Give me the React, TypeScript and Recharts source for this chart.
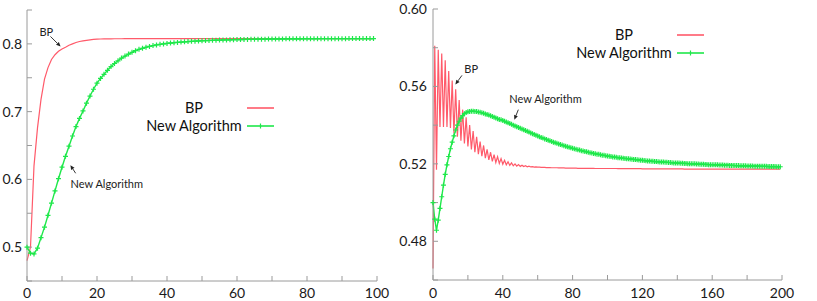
import { LineChart, Line, XAxis, YAxis, Legend, ReferenceDot, ReferenceLine } from 'recharts'

const FONT = 'Lato, "Open Sans", sans-serif'
const RED = '#ff5a6a'
const GREEN = '#1ee84a'
const FRAME = '#9a9a9a'

// left panel: iterations 0..99
const leftX = Array.from({ length: 100 }, (_, i) => i)
const leftBP = [
  0.480, 0.500, 0.620, 0.676, 0.718, 0.748, 0.765, 0.777, 0.784, 0.789,
  0.7925, 0.795, 0.798, 0.800, 0.802, 0.8035, 0.8045, 0.8053, 0.806, 0.8065,
  0.8069, 0.8072, 0.8074, 0.8075, 0.8075, 0.8076, 0.8076, 0.8076, 0.8077, 0.8077,
  0.8077, 0.8077, 0.8077, 0.8077, 0.8077, 0.8077, 0.8077, 0.8077, 0.8077, 0.8077,
  0.8077, 0.8077, 0.8077, 0.8077, 0.8077, 0.8077, 0.8077, 0.8077, 0.8077, 0.8077,
  0.8077, 0.8077, 0.8077, 0.8077, 0.8077, 0.8077, 0.8077, 0.8077, 0.8077, 0.8077,
  0.8077, 0.8077, 0.8077, 0.8077, 0.8077, 0.8077, 0.8077, 0.8077, 0.8077, 0.8077,
  0.8077, 0.8077, 0.8077, 0.8077, 0.8077, 0.8077, 0.8077, 0.8077, 0.8077, 0.8077,
  0.8077, 0.8077, 0.8077, 0.8077, 0.8077, 0.8077, 0.8077, 0.8077, 0.8077, 0.8077,
  0.8077, 0.8077, 0.8077, 0.8077, 0.8077, 0.8077, 0.8077, 0.8077, 0.8077, 0.8077,
]
const leftNA = [
  0.500, 0.491, 0.490, 0.4985, 0.514, 0.5295, 0.547, 0.565, 0.583, 0.601,
  0.618, 0.634, 0.649, 0.664, 0.678, 0.690, 0.701, 0.7125, 0.723, 0.733,
  0.742, 0.749, 0.755, 0.761, 0.7665, 0.771, 0.775, 0.779, 0.782, 0.785,
  0.7875, 0.790, 0.792, 0.7935, 0.795, 0.7963, 0.7975, 0.7985, 0.7993, 0.800,
  0.8006, 0.8012, 0.8017, 0.8022, 0.8026, 0.803, 0.8034, 0.8037, 0.804, 0.8043,
  0.8046, 0.8048, 0.805, 0.8052, 0.8054, 0.8056, 0.8058, 0.8059, 0.806, 0.8062,
  0.8063, 0.8064, 0.8065, 0.8066, 0.8067, 0.8068, 0.8069, 0.807, 0.807, 0.8071,
  0.8072, 0.8072, 0.8073, 0.8073, 0.8074, 0.8074, 0.8075, 0.8075, 0.8075, 0.8076,
  0.8076, 0.8076, 0.8076, 0.8076, 0.8077, 0.8077, 0.8077, 0.8077, 0.8077, 0.8077,
  0.8077, 0.8077, 0.8078, 0.8078, 0.8078, 0.8078, 0.8078, 0.8078, 0.8078, 0.8078,
]

// right panel: iterations 0..199
const rightX = Array.from({ length: 200 }, (_, i) => i)
const rightBP = [
  0.466, 0.581, 0.517, 0.579, 0.539, 0.577, 0.539, 0.5735, 0.539, 0.568,
  0.5385, 0.563, 0.536, 0.5585, 0.534, 0.553, 0.532, 0.548, 0.5305, 0.544,
  0.529, 0.540, 0.5275, 0.537, 0.526, 0.534, 0.525, 0.5315, 0.524, 0.5295,
  0.523, 0.5275, 0.522, 0.526, 0.5213, 0.5248, 0.5207, 0.5237, 0.5202, 0.5227,
  0.5198, 0.5218, 0.5195, 0.5211, 0.5192, 0.5205, 0.519, 0.520, 0.5188, 0.5196,
  0.5187, 0.5193, 0.5186, 0.519, 0.5185, 0.5188, 0.5184, 0.5186, 0.5183, 0.5184,
  0.5183, 0.5183, 0.5182, 0.5182, 0.5182, 0.5181, 0.5181, 0.5181, 0.518, 0.518,
  0.518, 0.518, 0.5179, 0.5179, 0.5179, 0.5179, 0.5178, 0.5178, 0.5178, 0.5178,
  0.5178, 0.5178, 0.5178, 0.5177, 0.5177, 0.5177, 0.5177, 0.5177, 0.5177, 0.5177,
  0.5177, 0.5177, 0.5177, 0.5176, 0.5176, 0.5176, 0.5176, 0.5176, 0.5176, 0.5176,
  0.5176, 0.5176, 0.5176, 0.5176, 0.5176, 0.5176, 0.5175, 0.5175, 0.5175, 0.5175,
  0.5175, 0.5175, 0.5175, 0.5175, 0.5175, 0.5175, 0.5175, 0.5175, 0.5175, 0.5175,
  0.5174, 0.5174, 0.5174, 0.5174, 0.5174, 0.5174, 0.5174, 0.5174, 0.5174, 0.5174,
  0.5174, 0.5174, 0.5174, 0.5174, 0.5174, 0.5174, 0.5174, 0.5174, 0.5174, 0.5174,
  0.5174, 0.5174, 0.5174, 0.5174, 0.5173, 0.5173, 0.5173, 0.5173, 0.5173, 0.5173,
  0.5173, 0.5173, 0.5173, 0.5173, 0.5173, 0.5173, 0.5173, 0.5173, 0.5173, 0.5173,
  0.5173, 0.5173, 0.5173, 0.5173, 0.5173, 0.5173, 0.5173, 0.5173, 0.5173, 0.5173,
  0.5173, 0.5173, 0.5173, 0.5173, 0.5173, 0.5173, 0.5173, 0.5173, 0.5173, 0.5173,
  0.5173, 0.5173, 0.5173, 0.5173, 0.5173, 0.5173, 0.5173, 0.5173, 0.5173, 0.5173,
  0.5173, 0.5173, 0.5173, 0.5173, 0.5173, 0.5173, 0.5173, 0.5173, 0.5173, 0.5173,
]
const rightNA = [
  0.500, 0.4914, 0.4857, 0.4909, 0.497, 0.503, 0.509, 0.5146, 0.5195, 0.5238,
  0.5278, 0.5312, 0.5345, 0.5375, 0.540, 0.542, 0.5436, 0.5449, 0.5459, 0.5465,
  0.5469, 0.5471, 0.5472, 0.5472, 0.5471, 0.547, 0.5468, 0.5466, 0.5464, 0.5461,
  0.5458, 0.5455, 0.5452, 0.5448, 0.5445, 0.5441, 0.5437, 0.5433, 0.5429, 0.5428,
  0.5424, 0.542, 0.5416, 0.5412, 0.5408, 0.5404, 0.540, 0.5396, 0.5392, 0.5388,
  0.5384, 0.538, 0.5376, 0.5372, 0.5368, 0.5364, 0.536, 0.5356, 0.5352, 0.5348,
  0.5344, 0.534, 0.5336, 0.5333, 0.5329, 0.5326, 0.5322, 0.5319, 0.5315, 0.5312,
  0.5309, 0.5306, 0.5303, 0.530, 0.5297, 0.5294, 0.5291, 0.5288, 0.5286, 0.5283,
  0.528, 0.5278, 0.5275, 0.5273, 0.5271, 0.5268, 0.5266, 0.5264, 0.5262, 0.526,
  0.5258, 0.5256, 0.5254, 0.5252, 0.525, 0.5249, 0.5247, 0.5245, 0.5244, 0.5242,
  0.524, 0.5239, 0.5238, 0.5236, 0.5235, 0.5234, 0.5232, 0.5231, 0.523, 0.5229,
  0.5228, 0.5227, 0.5226, 0.5225, 0.5224, 0.5223, 0.5222, 0.5221, 0.522, 0.5219,
  0.5218, 0.5217, 0.5216, 0.5215, 0.5215, 0.5214, 0.5213, 0.5212, 0.5212, 0.5211,
  0.521, 0.521, 0.5209, 0.5208, 0.5208, 0.5207, 0.5207, 0.5206, 0.5205, 0.5205,
  0.5204, 0.5204, 0.5203, 0.5203, 0.5202, 0.5202, 0.5201, 0.5201, 0.520, 0.520,
  0.520, 0.5199, 0.5199, 0.5198, 0.5198, 0.5198, 0.5197, 0.5197, 0.5196, 0.5196,
  0.5196, 0.5195, 0.5195, 0.5195, 0.5194, 0.5194, 0.5194, 0.5193, 0.5193, 0.5193,
  0.5192, 0.5192, 0.5192, 0.5191, 0.5191, 0.5191, 0.519, 0.519, 0.519, 0.519,
  0.5189, 0.5189, 0.5189, 0.5189, 0.5188, 0.5188, 0.5188, 0.5188, 0.5187, 0.5187,
  0.5187, 0.5187, 0.5186, 0.5186, 0.5186, 0.5186, 0.5186, 0.5185, 0.5185, 0.5185,
]

const leftXTicks = [0, 10, 20, 30, 40, 50, 60, 70, 80, 90, 100]
const leftXLabels = [0, 20, 40, 60, 80, 100]
const leftYTicks = [0.45, 0.5, 0.55, 0.6, 0.65, 0.7, 0.75, 0.8, 0.85]
const leftYLabels = [0.5, 0.6, 0.7, 0.8]
const rightXTicks = [0, 20, 40, 60, 80, 100, 120, 140, 160, 180, 200]
const rightXLabels = [0, 40, 80, 120, 160, 200]
const rightYTicks = [0.46, 0.48, 0.5, 0.52, 0.54, 0.56, 0.58, 0.6]
const rightYLabels = [0.48, 0.52, 0.56, 0.6]

const leftData = leftX.map((x, i) => ({ x, bp: leftBP[i], na: leftNA[i] }))
const rightData = rightX.map((x, i) => ({ x, bp: rightBP[i], na: rightNA[i] }))

// annotation labels + arrows, in data units
const leftNotes = [
  { text: 'BP', at: [5.5, 0.817], from: [6.7, 0.811], to: [9.6, 0.796] },
  { text: 'New Algorithm', at: [22.8, 0.593], from: [13.9, 0.609], to: [12.4, 0.621] },
]
const rightNotes = [
  { text: 'BP', at: [21.9, 0.5688], from: [16.6, 0.5657], to: [12.8, 0.561] },
  { text: 'New Algorithm', at: [64.5, 0.5537], from: [48.9, 0.548], to: [46.6, 0.5428] },
]

const tickStyle = { fill: '#1a1a1a', fontSize: 14, fontFamily: FONT }

function Cross(props: any) {
  const { cx, cy, index } = props
  if (cx == null || cy == null) return <g key={index} />
  return <path key={index} d={`M${cx - 2.5},${cy}h5M${cx},${cy - 2.5}v5`} stroke={GREEN} strokeWidth={1.2} />
}

function Arrow(props: any) {
  const { x1, y1, x2, y2 } = props
  const a = Math.atan2(y2 - y1, x2 - x1)
  const L = 4.5, W = 2
  const bx = x2 - L * Math.cos(a), by = y2 - L * Math.sin(a)
  const px = -Math.sin(a) * W, py = Math.cos(a) * W
  return (
    <g>
      <line x1={x1} y1={y1} x2={bx} y2={by} stroke="#222" strokeWidth={0.9} />
      <path d={`M${x2},${y2}L${bx + px},${by + py}L${bx - px},${by - py}Z`} fill="#222" />
    </g>
  )
}

// gnuplot-style key: labels centred over a common column, sample to the right
function KeyBox({ payload }: any) {
  return (
    <div style={{ width: 140, fontFamily: FONT, fontSize: 14.5, color: '#111' }}>
      {(payload ?? []).map((p: any) => (
        <div key={p.value} style={{ position: 'relative', height: 18 }}>
          <span style={{ position: 'absolute', left: 0, width: 112, textAlign: 'center', top: 0, lineHeight: '18px', whiteSpace: 'nowrap' }}>{p.value}</span>
          <svg width={30} height={18} style={{ position: 'absolute', left: 109, top: 0 }}>
            <line x1={0} y1={9} x2={27} y2={9} stroke={p.color} strokeWidth={1.6} />
            {p.dataKey === 'na' && <path d="M13.5,6.5v5" stroke={p.color} strokeWidth={1.2} />}
          </svg>
        </div>
      ))}
    </div>
  )
}

function Panel({ data, width, margin, yWidth, xHeight, xDomain, xTicks, xLabels, yDomain, yTicks, yLabels, yDigits,
  yMargin, xMargin, notes, legendPos }: any) {
  return (
    <LineChart width={width} height={301} data={data} margin={margin}>
      <XAxis
        dataKey="x" type="number" domain={xDomain} ticks={xTicks} interval={0}
        height={xHeight} tickSize={-5} tickMargin={xMargin}
        stroke={FRAME} tick={tickStyle}
        tickFormatter={(v: number) => (xLabels.includes(v) ? String(v) : '')}
      />
      <XAxis
        xAxisId="top" orientation="top" dataKey="x" type="number" domain={xDomain} ticks={xTicks}
        interval={0} height={0} tickSize={-5} stroke={FRAME} tick={false}
      />
      <YAxis
        type="number" domain={yDomain} ticks={yTicks} interval={0} width={yWidth}
        tickSize={-5} tickMargin={yMargin} stroke={FRAME} tick={tickStyle}
        tickFormatter={(v: number) => (yLabels.includes(v) ? v.toFixed(yDigits) : '')}
      />
      <YAxis
        yAxisId="right" orientation="right" type="number" domain={yDomain} ticks={yTicks}
        interval={0} width={0} tickSize={-5} stroke={FRAME} tick={false}
      />
      <Line dataKey="bp" name="BP" type="linear" stroke={RED} strokeWidth={1.2} dot={false} isAnimationActive={false} />
      <Line dataKey="na" name="New Algorithm" type="linear" stroke={GREEN} strokeWidth={1.4} dot={Cross} isAnimationActive={false} />
      {notes.map((n: any) => (
        <ReferenceLine key={n.text + 'a'} segment={[{ x: n.from[0], y: n.from[1] }, { x: n.to[0], y: n.to[1] }]}
          ifOverflow="visible" shape={Arrow} />
      ))}
      {notes.map((n: any) => (
        <ReferenceDot key={n.text + 't'} x={n.at[0]} y={n.at[1]} r={0} ifOverflow="visible"
          label={{ value: n.text, position: 'center', fontSize: 11, fontFamily: FONT, fill: '#222' }} />
      ))}
      <Legend layout="vertical" align="center" verticalAlign="middle" content={<KeyBox />}
        wrapperStyle={{ left: legendPos[0], top: legendPos[1], width: 140, height: 36 }} />
    </LineChart>
  )
}

export default function App() {
  return (
    <div style={{ position: 'absolute', left: 0, top: 0, width: 817, height: 301, background: '#fff' }}>
      <div style={{ position: 'absolute', left: 0, top: 0 }}>
        <Panel
          data={leftData} width={410} margin={{ top: 10, right: 33, bottom: 0, left: 0 }}
          yWidth={27} xHeight={20} xDomain={[0, 100]} xTicks={leftXTicks} xLabels={leftXLabels}
          yDomain={[0.45, 0.85]} yTicks={leftYTicks} yLabels={leftYLabels} yDigits={1}
          yMargin={10} xMargin={12} notes={leftNotes} legendPos={[138, 99]}
        />
      </div>
      <div style={{ position: 'absolute', left: 380, top: 0 }}>
        <Panel
          data={rightData} width={437} margin={{ top: 9, right: 35, bottom: 0, left: 0 }}
          yWidth={53} xHeight={21} xDomain={[0, 200]} xTicks={rightXTicks} xLabels={rightXLabels}
          yDomain={[0.46, 0.6]} yTicks={rightYTicks} yLabels={rightYLabels} yDigits={2}
          yMargin={11} xMargin={13} notes={rightNotes} legendPos={[188, 26]}
        />
      </div>
    </div>
  )
}
